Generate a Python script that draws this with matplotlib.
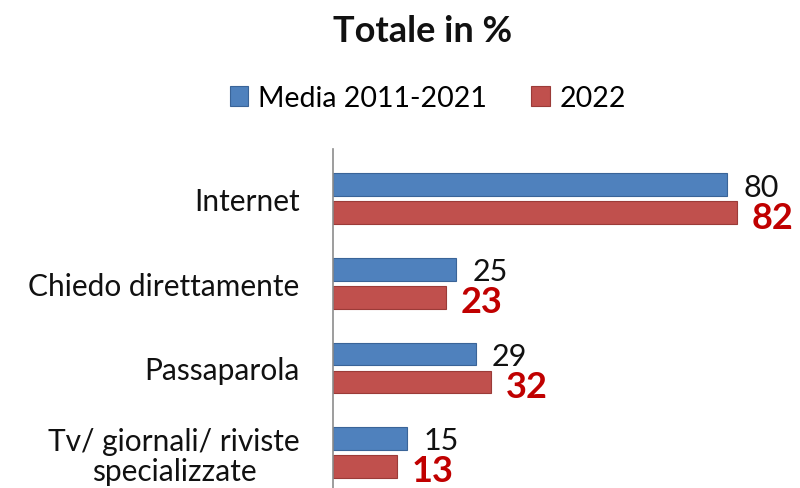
import matplotlib.pyplot as plt
import numpy as np

plt.rcParams['font.family'] = ['Lato', 'DejaVu Sans']

categorie = ['Internet', 'Chiedo direttamente', 'Passaparola',
             'Tv/ giornali/ riviste\nspecializzate']
media_2011_2021 = [80, 25, 29, 15]
anno_2022 = [82, 23, 32, 13]

blu = '#4F81BD'
rosso = '#C0504D'
rosso_testo = '#C00000'

fig = plt.figure(figsize=(8, 4.89), dpi=100)
# axes: vertical axis line at x=333px, group rows 84.5px apart
x0 = 333 / 800
px_unit = 4.925
xmax = 95
ax = fig.add_axes([x0, 0, xmax * px_unit / 800, 339 / 489])

y = np.arange(len(categorie))
h = 0.27
off = 0.166
b1 = ax.barh(y - off, media_2011_2021, height=h, color=blu,
             edgecolor='#3A6498', linewidth=0.8, label='Media 2011-2021')
b2 = ax.barh(y + off, anno_2022, height=h, color=rosso,
             edgecolor='#9B3B38', linewidth=0.8, label='2022')

for yy, v in zip(y - off, media_2011_2021):
    ax.text(v + 3.3, yy + 0.02, str(v), va='center', ha='left',
            fontsize=22, color='#111111')
for yy, v in zip(y + off, anno_2022):
    ax.text(v + 3.0, yy + 0.05, str(v), va='center', ha='left',
            fontsize=26, fontweight='bold', color=rosso_testo)

ax.set_xlim(0, xmax)
ax.set_ylim(3.42, -0.59)
ax.set_yticks(y)
ax.set_yticklabels(categorie, fontsize=21.5, color='#111111',
                   linespacing=1.1, multialignment='center')
ax.tick_params(axis='y', length=0, pad=24)
ax.set_xticks([])
for s in ['top', 'right', 'bottom']:
    ax.spines[s].set_visible(False)
ax.spines['left'].set_color('#8C8C8C')
ax.spines['left'].set_linewidth(1.2)

fig.text(423 / 800, 1 - 31 / 489, 'Totale in %', ha='center', va='center',
         fontsize=26, fontweight='bold', color='#111111')
fig.legend(handles=[b1, b2], loc='center', ncol=2,
           bbox_to_anchor=(428 / 800, 1 - 99 / 489), frameon=False,
           fontsize=20.5, handlelength=0.65, handleheight=0.65,
           handletextpad=0.35, columnspacing=1.55)

fig.savefig('out.png', dpi=100)
